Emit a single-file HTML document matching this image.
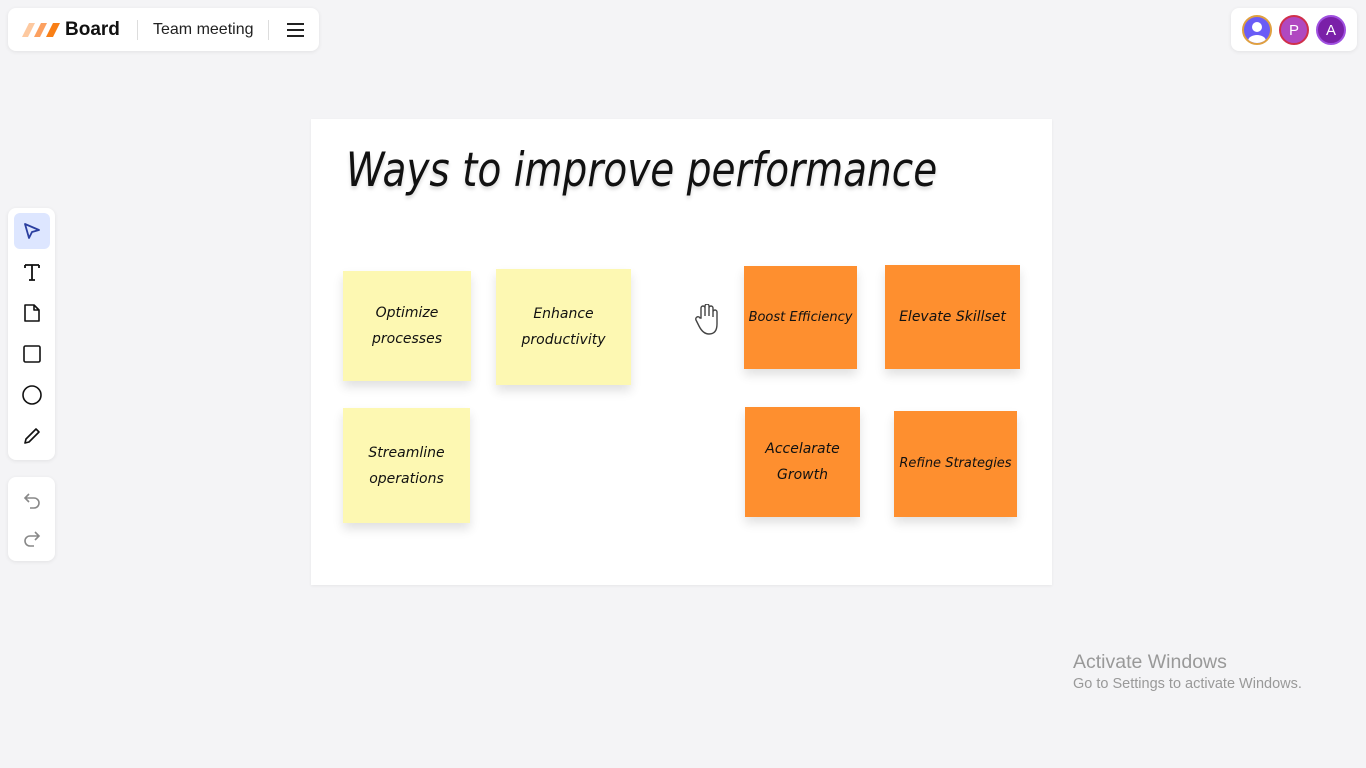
<!DOCTYPE html>
<html><head><meta charset="utf-8"><style>
*{margin:0;padding:0;box-sizing:border-box}
body{width:1366px;height:768px;background:#f4f4f6;position:relative;overflow:hidden;font-family:"Liberation Sans",sans-serif}
.panel{position:absolute;background:#fff;border-radius:8px;box-shadow:0 1px 4px rgba(0,0,0,.08)}
.note{position:absolute;display:flex;align-items:center;justify-content:center;text-align:center;font-family:"DejaVu Sans",sans-serif;font-style:oblique;font-size:14px;line-height:26px;color:#111;box-shadow:0 6px 10px rgba(0,0,0,.12)}
.y{background:#fdf8b2}.o{background:#fe8f2f}
.av{position:absolute;top:15px;width:30px;height:30px;border-radius:50%;color:#fff;font-size:15px;display:flex;align-items:center;justify-content:center}
.ic{position:absolute;left:14px;width:36px;height:36px;display:flex;align-items:center;justify-content:center}
</style></head><body>
<div class="panel" style="left:8px;top:8px;width:311px;height:43px">
  <svg style="position:absolute;left:14px;top:15px" width="38" height="14"><polygon points="7,0 13,0 6,14 0,14" fill="#fdc9a0"/><polygon points="19,0 25,0 18,14 12,14" fill="#fca060"/><polygon points="31,0 38,0 31,14 24,14" fill="#f97f16"/></svg>
  <div style="position:absolute;left:57px;top:11px;font-weight:bold;font-size:19px;color:#111">Board</div>
  <div style="position:absolute;left:129px;top:12px;width:1px;height:20px;background:#ddd"></div>
  <div style="position:absolute;left:145px;top:13px;font-size:16px;color:#222">Team meeting</div>
  <div style="position:absolute;left:260px;top:12px;width:1px;height:20px;background:#ddd"></div>
  <div style="position:absolute;left:279px;top:15px;width:17px;height:2px;background:#222;box-shadow:0 6px 0 #222,0 12px 0 #222"></div>
</div>
<div class="panel" style="left:1231px;top:8px;width:126px;height:43px">
  <div class="av" style="left:11px;top:7px;background:#6a5cf6;border:2px solid #e0a040;overflow:hidden"><svg width="26" height="26"><circle cx="13" cy="10" r="5" fill="#fff"/><ellipse cx="13" cy="24" rx="9" ry="6" fill="#fff"/></svg></div>
  <div class="av" style="left:48px;top:7px;background:#b048c0;border:2px solid #d0304a">P</div>
  <div class="av" style="left:85px;top:7px;background:#7a20a8;border:2px solid #a050e0">A</div>
</div>
<div class="panel" style="left:8px;top:208px;width:47px;height:252px">
  <div class="ic" style="left:6px;top:5px;background:#dde6ff;border-radius:6px"><svg width="20" height="20"><path d="M3 3 L17 9 L10 11 L7 17 Z" fill="none" stroke="#2b3fa0" stroke-width="1.8" stroke-linejoin="round"/></svg></div>
  <div class="ic" style="left:6px;top:46px"><svg width="20" height="20"><path d="M3 3 H17 M10 3 V18 M7 18 H13 M3 3 V6 M17 3 V6" fill="none" stroke="#111" stroke-width="1.8"/></svg></div>
  <div class="ic" style="left:6px;top:87px"><svg width="20" height="20"><path d="M3 2 H12 L17 7 V18 H3 Z M12 2 V7 H17" fill="none" stroke="#111" stroke-width="1.6" stroke-linejoin="round"/></svg></div>
  <div class="ic" style="left:6px;top:128px"><svg width="20" height="20"><rect x="2" y="2" width="16" height="16" rx="1.5" fill="none" stroke="#111" stroke-width="1.6"/></svg></div>
  <div class="ic" style="left:6px;top:169px"><svg width="22" height="22"><circle cx="11" cy="11" r="9" fill="none" stroke="#111" stroke-width="1.6"/></svg></div>
  <div class="ic" style="left:6px;top:210px"><svg width="20" height="20"><path d="M3 17 L4 13 L14 3 L17 6 L7 16 Z" fill="none" stroke="#111" stroke-width="1.6" stroke-linejoin="round"/></svg></div>
</div>
<div class="panel" style="left:8px;top:477px;width:47px;height:84px">
  <svg style="position:absolute;left:14px;top:13px" width="20" height="20"><path d="M7 4 L3 8 L7 12 M3 8 H12 A5 5 0 0 1 12 18 H8" fill="none" stroke="#888" stroke-width="1.6"/></svg>
  <svg style="position:absolute;left:14px;top:51px" width="20" height="20"><path d="M13 4 L17 8 L13 12 M17 8 H8 A5 5 0 0 0 8 18 H12" fill="none" stroke="#888" stroke-width="1.6"/></svg>
</div>
<div style="position:absolute;left:311px;top:119px;width:741px;height:466px;background:#fff;box-shadow:0 1px 3px rgba(0,0,0,.06)"></div>
<div style="position:absolute;left:346px;top:143px;font-family:'DejaVu Sans',sans-serif;font-style:oblique;font-size:47px;color:#111;white-space:nowrap;transform:scaleX(0.83);transform-origin:left;text-shadow:0 3px 4px rgba(0,0,0,.15)">Ways to improve performance</div>
<div class="note y" style="left:343px;top:271px;width:128px;height:110px">Optimize<br>processes</div>
<div class="note y" style="left:496px;top:269px;width:135px;height:116px">Enhance<br>productivity</div>
<div class="note y" style="left:343px;top:408px;width:127px;height:115px">Streamline<br>operations</div>
<div class="note o" style="left:744px;top:266px;width:113px;height:103px;font-size:13px">Boost Efficiency</div>
<div class="note o" style="left:885px;top:265px;width:135px;height:104px">Elevate Skillset</div>
<div class="note o" style="left:745px;top:407px;width:115px;height:110px">Accelarate<br>Growth</div>
<div class="note o" style="left:894px;top:411px;width:123px;height:106px;font-size:13px">Refine Strategies</div>
<svg style="position:absolute;left:695px;top:304px" width="24" height="32"><path d="M6 14 V4 a2 2 0 0 1 4 0 V12 V2 a2 2 0 0 1 4 0 V12 V4 a2 2 0 0 1 4 0 V13 V8 a2 2 0 0 1 4 0 V20 Q22 30 14 30 Q8 30 4 22 L1 16 a2 2 0 0 1 4 -2 Z" fill="#fff" stroke="#444" stroke-width="1.4"/></svg>
<div style="position:absolute;left:1073px;top:651px;font-size:19.5px;color:#999">Activate Windows</div>
<div style="position:absolute;left:1073px;top:676px;font-size:14.5px;color:#999">Go to Settings to activate Windows.</div>
</body></html>
